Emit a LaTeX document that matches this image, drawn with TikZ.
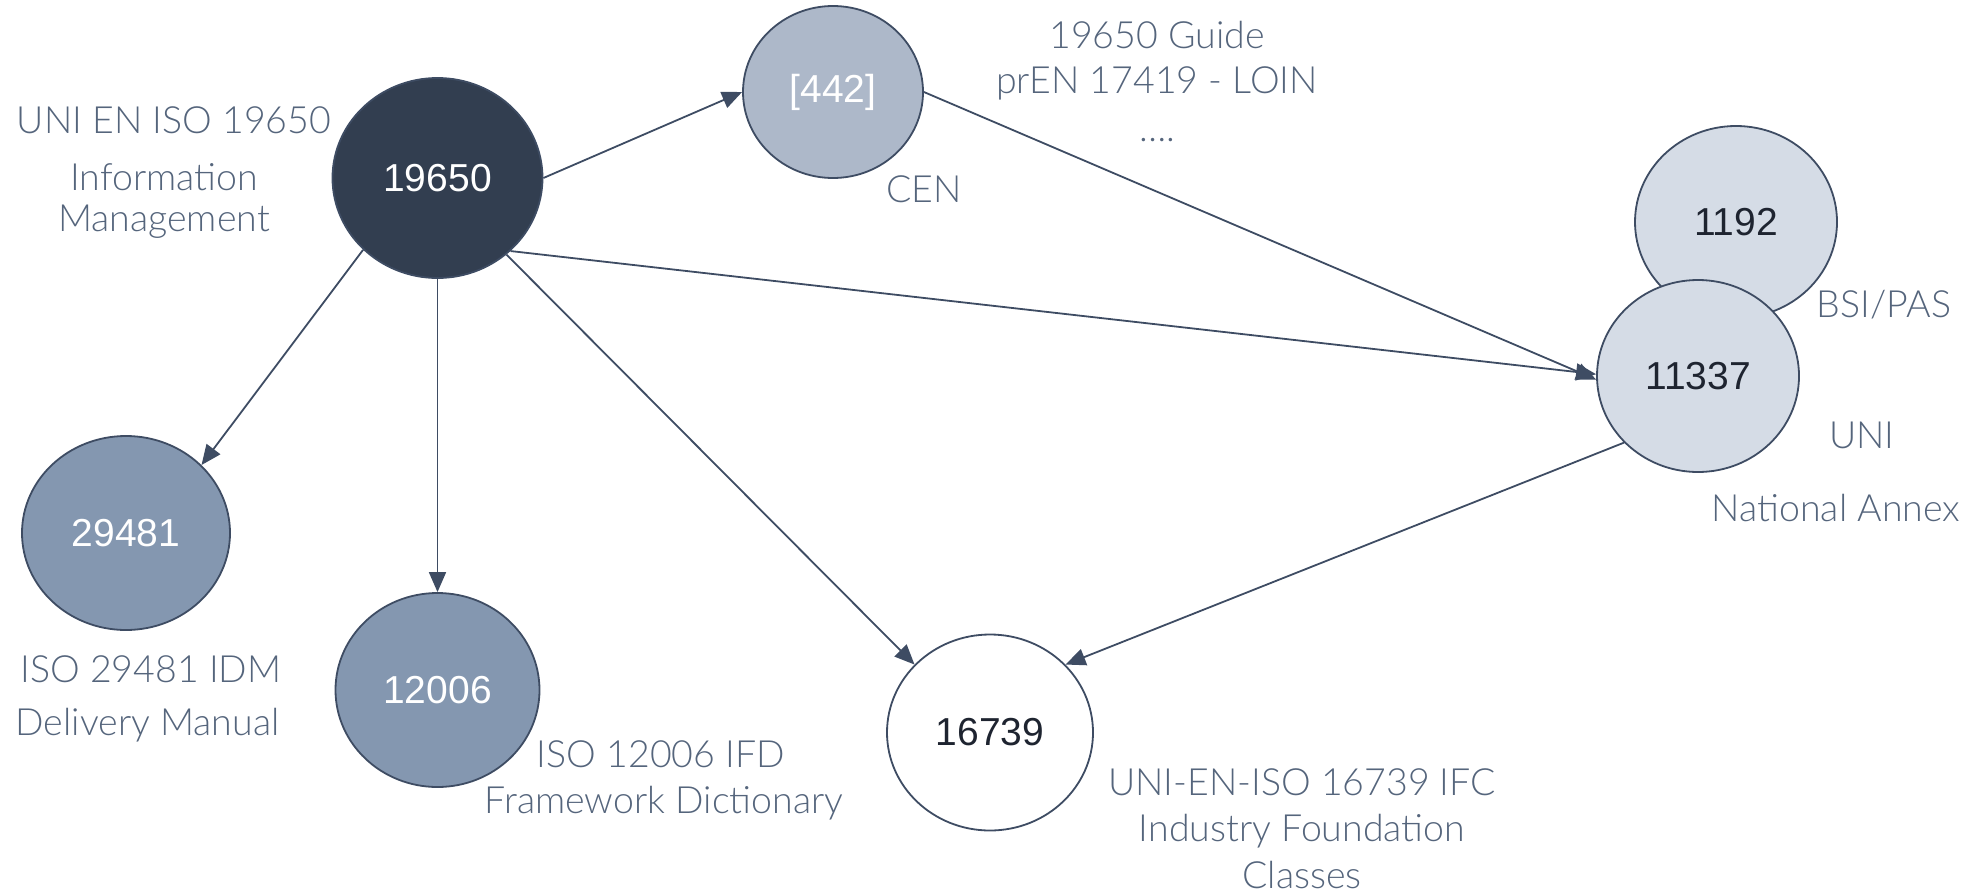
\documentclass[tikz,border=0pt]{standalone}
\usepackage{fontspec}
\setmainfont{Liberation Sans}
\newfontfamily\lightfont{Lato}[UprightFont=* Light]
\usetikzlibrary{shapes.geometric,arrows.meta}
\definecolor{edgeblue}{HTML}{3E4C63}
\definecolor{labelblue}{HTML}{55657C}
\definecolor{navy}{HTML}{323E50}
\definecolor{steel}{HTML}{8497B0}
\definecolor{haze}{HTML}{ADB8C9}
\definecolor{mist}{HTML}{D5DCE6}
\definecolor{ink}{HTML}{1E2430}
\tikzset{
  stdnode/.style={ellipse, draw=edgeblue, line width=1.8pt, inner sep=0pt,
    font=\fontsize{39}{42}\selectfont},
  lbl/.style={text=labelblue, inner sep=0pt, align=center,
    font=\lightfont\fontsize{37.5}{42}\selectfont},
  link/.style={draw=edgeblue, line width=1.8pt,
    -{Triangle[length=20pt,width=17pt]}},
}
\begin{document}
\begin{tikzpicture}[x=1pt,y=-1pt]
\useasboundingbox (0,0) rectangle (1977,894);
% standards
\node[stdnode, fill=navy, text=white, minimum width=210pt, minimum height=200pt] (iso19650) at (437.5,178) {19650};
\node[stdnode, fill=haze, text=white, minimum width=180pt, minimum height=172pt] (cen442) at (833,92) {[442]};
\node[stdnode, fill=mist, text=ink, minimum width=202pt, minimum height=192pt] (pas1192) at (1736,222) {1192};
\node[stdnode, fill=mist, text=ink, minimum width=202pt, minimum height=192pt] (uni11337) at (1698,376) {11337};
\node[stdnode, fill=steel, text=white, minimum width=208pt, minimum height=194pt] (iso29481) at (126,533) {29481};
\node[stdnode, fill=steel, text=white, minimum width=204pt, minimum height=194pt] (iso12006) at (437.5,690) {12006};
\node[stdnode, fill=white, text=ink, minimum width=206pt, minimum height=196pt] (iso16739) at (990,732.5) {16739};
% captions
\node[lbl] (t19650a) at (174,120) {UNI EN ISO 19650};
\node[lbl] (t19650b) at (164,177) {Information};
\node[lbl] (t19650c) at (164,222) {Management};
\node[lbl] (tguide) at (1157,35) {19650 Guide};
\node[lbl] (tloin) at (1157,83) {prEN 17419 - LOIN};
\node[lbl] (tdots) at (1157,140) {\dots.};
\node[lbl] (tcen) at (924,189) {CEN};
\node[lbl] (tbsi) at (1884,305) {BSI/PAS};
\node[lbl] (tuni) at (1862,435) {UNI};
\node[lbl] (tannex) at (1836,508) {National Annex};
\node[lbl] (tidm) at (151,669.5) {ISO 29481 IDM};
\node[lbl] (tdm) at (147.5,725) {Delivery Manual};
\node[lbl] (tifd) at (661,754) {ISO 12006 IFD};
\node[lbl] (tfd) at (664,803) {Framework Dictionary};
\node[lbl] (tifc) at (1302,782) {UNI-EN-ISO 16739 IFC};
\node[lbl] (tind) at (1302,831) {Industry Foundation};
\node[lbl] (tcls) at (1302,875) {Classes};
% relations
\draw[link] (iso19650.0) -- (cen442.180);
\draw[link] (iso19650.224) -- (iso29481.42);
\draw[link] (iso19650.270) -- (iso12006.90);
\draw[link] (iso19650.312) -- (iso16739.138);
\draw[link] (iso19650.315) -- (uni11337.179);
\draw[link] (cen442.0) -- (uni11337.182);
\draw[link] (uni11337.222) -- (iso16739.42);
\end{tikzpicture}
\end{document}
